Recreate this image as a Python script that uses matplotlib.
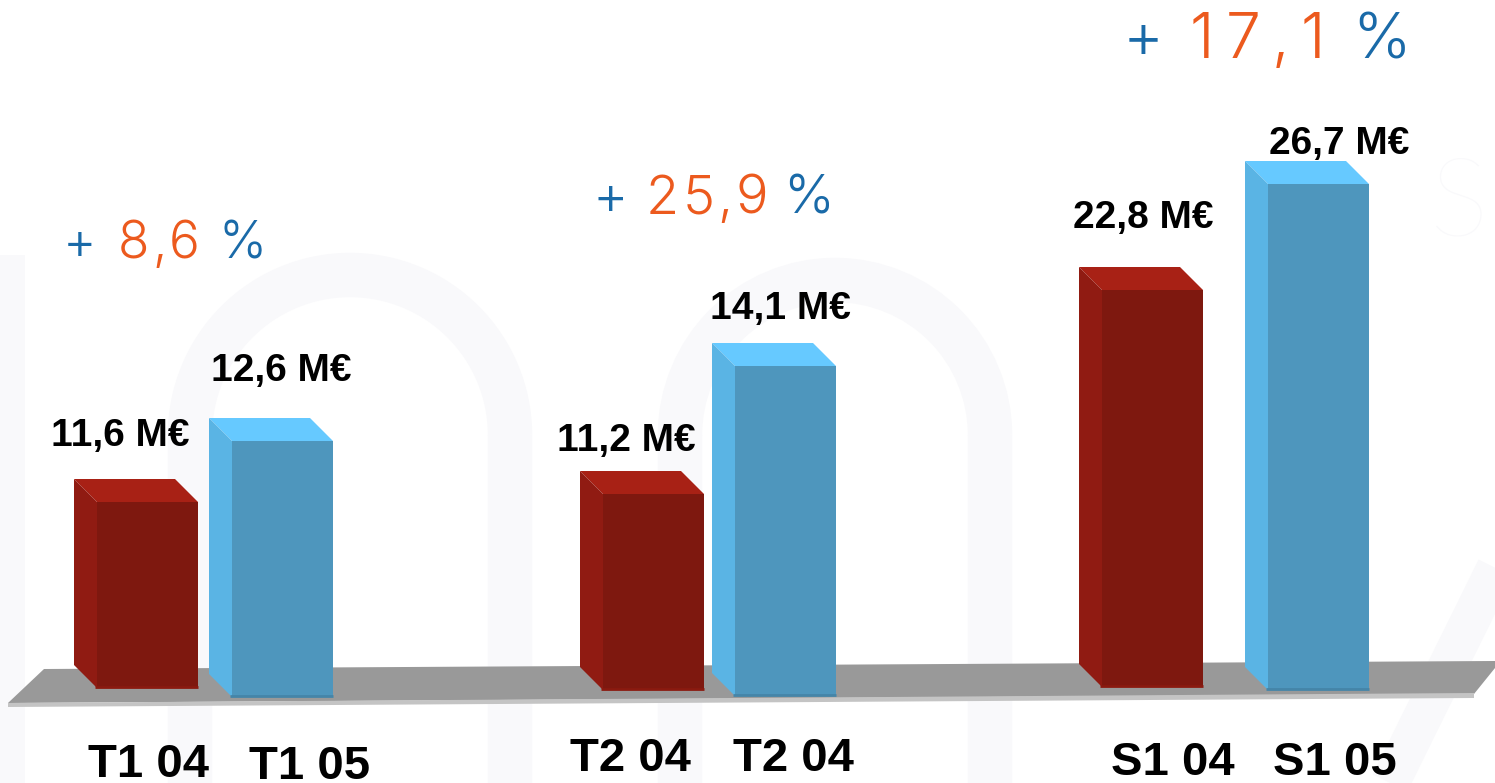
import matplotlib
matplotlib.use("Agg")
import matplotlib.pyplot as plt
from matplotlib.patches import Polygon, Arc

# the drawn bars are not proportional to their labels, so heights are read off the picture in px
categories = ["T1 04", "T1 05", "T2 04", "T2 04", "S1 04", "S1 05"]
value_labels = ["11,6 M€", "12,6 M€", "11,2 M€", "14,1 M€", "22,8 M€", "26,7 M€"]
bar_lefts = [74, 209, 580, 712, 1079, 1245]
bar_tops = [479, 418, 471, 343, 267, 161]
bar_bases = [688, 697, 690, 696, 687, 690]
is_red = [True, False, True, False, True, False]

label_xs = [120, 281, 626, 780, 1143, 1339]
label_ys = [436, 371, 441, 309, 218, 144]
cat_xs = [148, 310, 630, 793, 1173, 1335]
cat_ys = [765, 767, 759, 759, 763, 763]

growth = ["8,6", "25,9", "17,1"]
growth_sizes = [37, 39, 45]
growth_ys = [245, 200, 42]
plus_spans = [(63, 89), (592, 616), (1123, 1151)]
num_spans = [(118, 200), (646, 768), (1190, 1325)]
pct_spans = [(218, 268), (783, 831), (1352, 1409)]

DEPTH = 23
WIDTH = 101
RED = ("#a82115", "#901b12", "#7e180f", "#8a1a10")
BLUE = ("#66c9ff", "#5ab4e4", "#4e96bd", "#4585a8")
ORANGE = "#ec5a1e"
DKBLUE = "#1a6aa8"
WATER = "#f9f9fb"

fig = plt.figure(figsize=(14.95, 7.83), dpi=100)
ax = fig.add_axes([0, 0, 1, 1])
ax.set_xlim(0, 1495)
ax.set_ylim(783, 0)
ax.axis("off")


def spaced_text(s, span, y, size, color):
    # matplotlib has no letter spacing, place glyphs one at a time
    r = fig.canvas.get_renderer()
    widths = []
    for ch in s:
        t = ax.text(0, 0, ch, fontsize=size, family="Inter", weight=300)
        widths.append(t.get_window_extent(r).width)
        t.remove()
    gap = (span[1] - span[0] - sum(widths)) / max(len(s) - 1, 1)
    x = span[0]
    for ch, w in zip(s, widths):
        ax.text(x, y, ch, fontsize=size, family="Inter", weight=300, color=color,
                ha="left", va="center")
        x += w + gap


# watermark behind the chart
for cx, r in [(350, 160), (835, 155)]:
    ax.add_patch(Arc((cx, 435), 2 * r, 2 * r, theta1=180, theta2=360, color=WATER, lw=32, zorder=0))
    ax.plot([cx - r, cx - r], [435, 783], color=WATER, lw=32, solid_capstyle="butt", zorder=0)
    ax.plot([cx + r, cx + r], [435, 783], color=WATER, lw=32, solid_capstyle="butt", zorder=0)
ax.fill_between([0, 25], 255, 783, color=WATER, lw=0, zorder=0)
ax.plot([1500, 1390], [560, 783], color=WATER, lw=28, solid_capstyle="butt", zorder=0)
ax.text(1430, 205, "S", fontsize=80, family="Lato", weight="light", color=WATER, va="center", zorder=0)

# floor
ax.add_patch(Polygon([(8, 703), (44, 669), (1495, 661), (1495, 668), (1474, 694)], color="#999999", lw=0, zorder=1))
ax.add_patch(Polygon([(8, 703), (1474, 693), (1474, 698), (8, 707)], color="#c4c4c4", lw=0, zorder=1))

for left, top, base, red in zip(bar_lefts, bar_tops, bar_bases, is_red):
    c_top, c_side, c_front, c_base = RED if red else BLUE
    front = left + DEPTH
    ax.add_patch(Polygon([(left, top), (left + WIDTH, top), (front + WIDTH, top + DEPTH), (front, top + DEPTH)],
                         color=c_top, lw=0, zorder=2))
    ax.add_patch(Polygon([(left, top), (front, top + DEPTH), (front, base), (left, base - DEPTH)],
                         color=c_side, lw=0, zorder=2))
    ax.add_patch(Polygon([(front, top + DEPTH), (front + WIDTH, top + DEPTH), (front + WIDTH, base), (front, base)],
                         color=c_front, lw=0, zorder=2))
    ax.plot([front - 2, front + WIDTH], [base - 1, base - 1], color=c_base, lw=2, solid_capstyle="butt", zorder=2)

for s, x, y in zip(value_labels, label_xs, label_ys):
    ax.text(x, y, s, fontsize=28, family="Liberation Sans", weight="bold", ha="center", va="center", zorder=3)
for s, x, y in zip(categories, cat_xs, cat_ys):
    ax.text(x, y, s, fontsize=34, family="Liberation Sans", weight="bold", ha="center", va="center", zorder=3)

for g, size, y, p, n, c in zip(growth, growth_sizes, growth_ys, plus_spans, num_spans, pct_spans):
    spaced_text("+", p, y, size, DKBLUE)
    spaced_text(g, n, y, size, ORANGE)
    spaced_text("%", c, y, size, DKBLUE)

fig.savefig("out.png", dpi=100)
